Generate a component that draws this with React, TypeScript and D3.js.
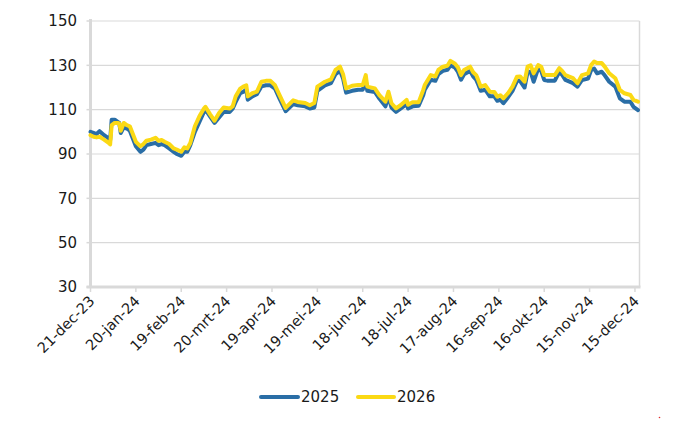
import React from "react";
import * as d3 from "d3";

// ---- data ----
const startDate = "2023-12-21";
const dayOffsets = [
  0, 2, 4, 6, 9, 12, 13, 14, 16, 18, 19, 20, 22, 24, 26, 28, 30, 33, 35, 37, 40, 43, 45, 47, 49, 52, 55, 57, 60, 62,
  64, 66, 69, 72, 75, 76, 79, 82, 85, 88, 92, 94, 96, 99, 101, 103, 104, 107, 110, 113, 116, 119, 122, 125, 129,
  134, 137, 142, 145, 148, 150, 155, 159, 162, 165, 167, 169, 173, 177, 180, 182, 183, 188, 191, 195, 197, 199, 202,
  205, 209, 210, 213, 217, 220, 221, 225, 228, 230, 233, 236, 238, 241, 243, 245, 247, 251, 253, 255, 256, 258, 261,
  264, 267, 269, 271, 273, 276, 279, 282, 284, 287, 289, 291, 293, 296, 298, 300, 302, 307, 310, 312, 314, 319, 322,
  325, 329, 331, 333, 335, 338, 340, 343, 347, 350, 353, 357, 359, 362,
];
const series2025 = [
  100, 99.5, 99, 100.3, 98.5, 97, 96.3, 105.5, 105.5, 104.5, 104, 99.5, 102, 101.5, 100.5, 97, 93.5, 91, 92, 94, 94.5,
  95, 94, 94.5, 94, 92.5, 91, 90, 89.2, 91, 91, 94, 100, 104.5, 109, 110, 107, 104, 106.5, 109, 109, 110.5, 113.5,
  117.5, 118, 119, 114.5, 116, 117, 120.5, 121, 121, 119.5, 115, 109.3, 112.5, 112, 111.5, 110.5, 111, 118.5, 121, 122,
  126, 127.5, 124, 117.7, 118.5, 119, 119, 123.5, 118.5, 118, 115, 111.5, 116, 111, 109, 110.5, 112.5, 110.5, 111.5,
  111.8, 116.5, 119, 123.5, 123, 126, 127.5, 128, 130, 129, 127, 123.5, 126, 127.5, 125, 123.5, 122, 118.5, 119, 116,
  116, 114, 114.5, 112.9, 115.5, 118.5, 123, 123, 120, 127, 127.1, 122.6, 128.5, 127.5, 123.4, 123.1, 123.1, 127.1,
  125.6, 123.4, 122, 120.4, 123.4, 124, 127.9, 128.5, 126.4, 127.1, 125.5, 122.6, 120.4, 115.1, 113.6, 113.6, 111.3,
  109.8,
];
const series2026 = [
  98.5, 97.8, 97.5, 97.8, 96.5, 95, 94.3, 103, 104, 104, 103.8, 100.5, 104, 103, 102.5, 99, 95.5, 93.5, 94.5, 96, 96.5,
  97.3, 96, 96.3, 95.5, 94.5, 92.5, 92, 91, 93, 92.5, 95, 102.5, 107, 110.5, 111.3, 108, 105, 108.5, 111, 110.5, 111.5,
  116, 119.5, 120.4, 121, 116, 117.4, 118.1, 122.6, 123, 123, 121, 116.6, 110.8, 114.2, 113.5, 113, 112, 113, 120.4,
  122.6, 123.7, 127.9, 129.4, 126, 119.6, 120.8, 121.1, 121.1, 125.6, 120.4, 119.6, 116.6, 113.6, 118.1, 112.9, 110.6,
  112, 114.4, 112.2, 113.4, 113.4, 118.9, 121.1, 125.6, 125, 127.9, 129.4, 129.8, 132, 130.7, 129, 125.6, 127.9,
  129.4, 126.9, 125.6, 124, 120.4, 121.1, 118.1, 118, 115.9, 116.5, 115.1, 117.4, 120.4, 124.9, 125, 122.6, 129.4, 130,
  126.4, 130.1, 129.4, 125.6, 125.6, 125.6, 128.7, 127.4, 125.6, 124.2, 121.9, 125.6, 126.4, 130.1, 131.7, 131, 131,
  129.4, 126.4, 124.2, 118.9, 117.4, 116.6, 114.4, 113.6,
];
const seriesNames = ["2025", "2026"];
const xTickLabels = [
  "21-dec-23", "20-jan-24", "19-feb-24", "20-mrt-24", "19-apr-24", "19-mei-24", "18-jun-24",
  "18-jul-24", "17-aug-24", "16-sep-24", "16-okt-24", "15-nov-24", "15-dec-24",
];
const yTicks = [30, 50, 70, 90, 110, 130, 150];

const monthMap: Record<string, number> = {
  jan: 0, feb: 1, mrt: 2, apr: 3, mei: 4, jun: 5, jul: 6, aug: 7, sep: 8, okt: 9, nov: 10, dec: 11,
};
function parseLabel(s: string): Date {
  const [d, m, y] = s.split("-");
  return new Date(Date.UTC(2000 + +y, monthMap[m], +d));
}

const FONT = "'DejaVu Sans', sans-serif";

export default function App() {
  const start = new Date(startDate + "T00:00:00Z");
  const end = d3.utcDay.offset(start, 363);
  const left = 90.5, right = 639.5, top = 21, bottom = 287;
  const x = d3.scaleUtc().domain([start, end]).range([left, right]);
  const y = d3.scaleLinear().domain([30, 150]).range([bottom, top]);

  const pts = dayOffsets.map((d, i) => ({
    date: d3.utcDay.offset(start, d),
    a: series2025[i],
    b: series2026[i],
  }));
  const lineA = d3.line<any>().x((p) => x(p.date)).y((p) => y(p.a)).curve(d3.curveLinear);
  const lineB = d3.line<any>().x((p) => x(p.date)).y((p) => y(p.b)).curve(d3.curveLinear);

  const blue = "#2a6ea6";
  const yellow = "#fbd914";
  const grid = "#d9d9d9";

  return (
    <svg width={700} height={430} style={{ position: "absolute", left: 0, top: 0, background: "#fff" }}>
      {yTicks.map((t) => (
        <g key={t}>
          {t !== 30 && <line x1={left} x2={right} y1={y(t)} y2={y(t)} stroke={grid} strokeWidth={1.2} />}
          <line x1={left - 4} x2={left} y1={y(t)} y2={y(t)} stroke={grid} strokeWidth={1.5} />
          <text x={77} y={y(t)} dy="0.36em" textAnchor="end" fontFamily={FONT} fontSize={15} fill="#1a1a1a">
            {t}
          </text>
        </g>
      ))}
      <line x1={right} x2={right} y1={top} y2={bottom} stroke={grid} strokeWidth={1.5} />
      <line x1={left} x2={left} y1={top - 2} y2={bottom + 1} stroke={grid} strokeWidth={3} />
      <line x1={left - 4} x2={right + 1} y1={bottom} y2={bottom} stroke={grid} strokeWidth={3} />
      {xTickLabels.map((lab) => {
        const xx = x(parseLabel(lab));
        return (
          <g key={lab}>
            <line x1={xx} x2={xx} y1={bottom} y2={bottom + 5} stroke={grid} strokeWidth={1.5} />
            <text
              transform={`translate(${xx + 5},${bottom + 15}) rotate(-45)`}
              textAnchor="end"
              fontFamily={FONT}
              fontSize={14.5}
              fill="#1a1a1a"
            >
              {lab}
            </text>
          </g>
        );
      })}
      <path d={lineA(pts) || ""} fill="none" stroke={blue} strokeWidth={4} strokeLinejoin="round" strokeLinecap="round" />
      <path d={lineB(pts) || ""} fill="none" stroke={yellow} strokeWidth={4} strokeLinejoin="round" strokeLinecap="round" />
      <g fontFamily={FONT} fontSize={15} fill="#1a1a1a">
        <line x1={261} x2={298} y1={397} y2={397} stroke={blue} strokeWidth={4} strokeLinecap="round" />
        <text x={301} y={397} dy="0.36em">{seriesNames[0]}</text>
        <line x1={358} x2={394} y1={397} y2={397} stroke={yellow} strokeWidth={4} strokeLinecap="round" />
        <text x={397} y={397} dy="0.36em">{seriesNames[1]}</text>
      </g>
      <circle cx={659.5} cy={417.5} r={0.8} fill="#e03030" />
    </svg>
  );
}
